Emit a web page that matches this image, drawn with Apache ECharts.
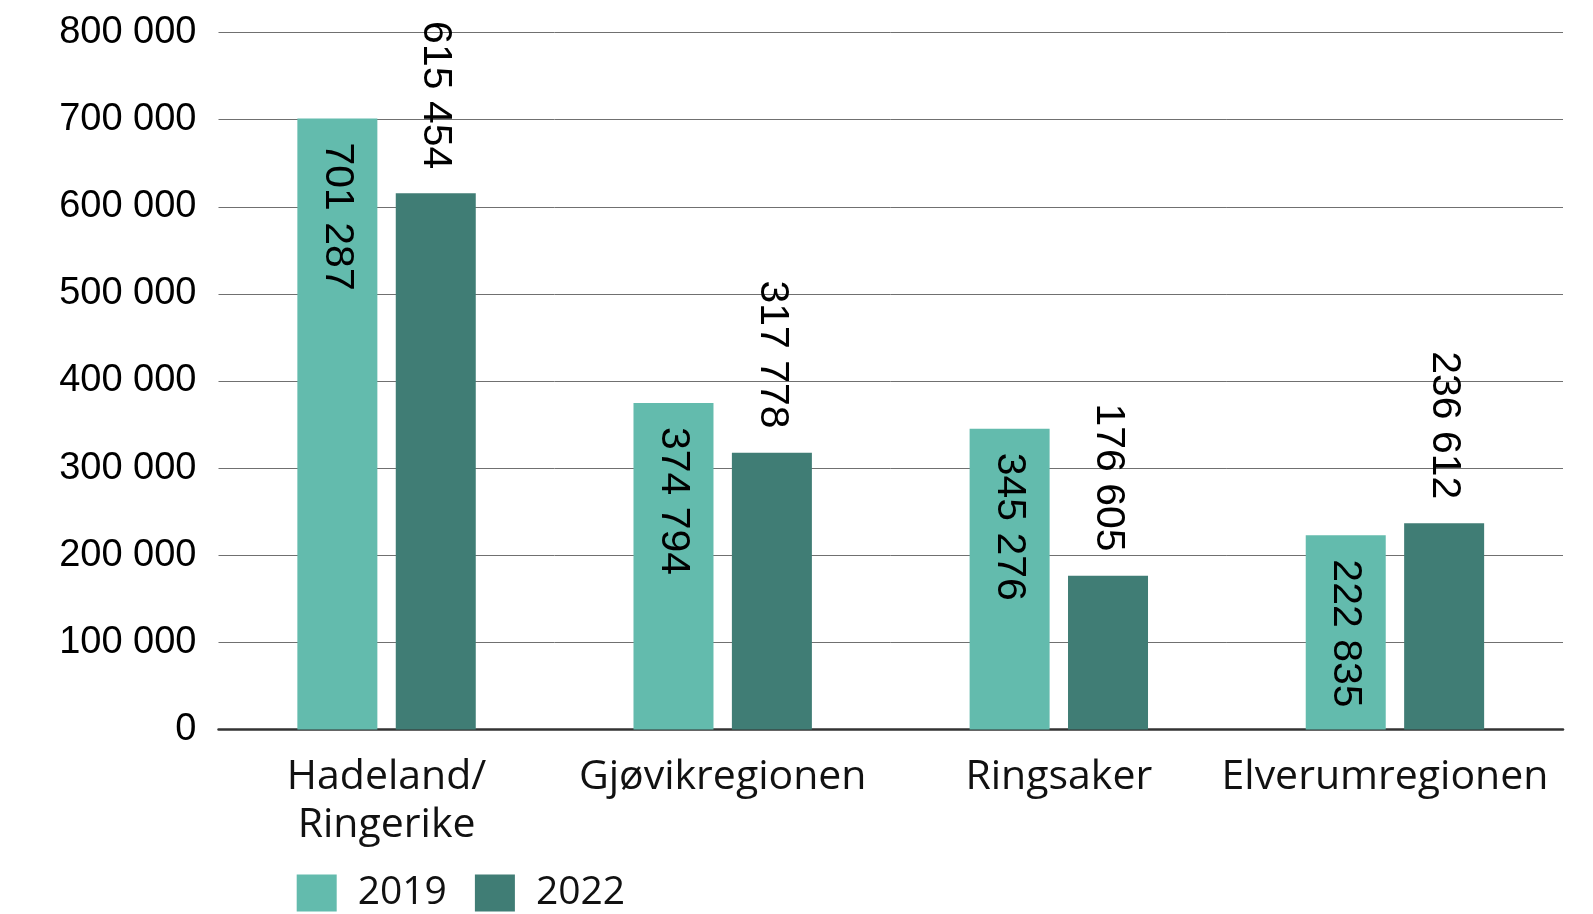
<!DOCTYPE html>
<html>
<head>
<meta charset="utf-8">
<style>
  html, body { margin: 0; padding: 0; background: #ffffff; }
  #chart { width: 1593px; height: 914px; }
</style>
<script src="https://cdn.jsdelivr.net/npm/echarts@6/dist/echarts.min.js"></script>
</head>
<body>
<div id="chart"></div>
<script>
// Regions and yearly totals
const regions = ['Hadeland/\nRingerike', 'Gjøvikregionen', 'Ringsaker', 'Elverumregionen'];
const values2019 = [701287, 374794, 345276, 222835];
const values2022 = [615454, 317778, 176605, 236612];
const seriesNames = ['2019', '2022'];

const colorLight = '#63BBAD';
const colorDark = '#407D75';

// Norwegian-style thousands separator (space)
function fmt(v) {
  return String(v).replace(/\B(?=(\d{3})+(?!\d))/g, ' ');
}

// The last category name is nudged left so it stays clear of the right edge
const categoryData = regions.map((name, i) =>
  i === regions.length - 1
    ? { value: name, textStyle: { padding: [0, 20, 0, 0] } }
    : name
);

const chart = echarts.init(document.getElementById('chart'), null, { renderer: 'canvas' });

chart.setOption({
  animation: false,
  backgroundColor: '#ffffff',
  grid: { left: 218.5, right: 30, top: 32.5, bottom: 184.5, containLabel: false },
  legend: {
    left: 291.7,
    top: 868.5,
    itemWidth: 40,
    itemHeight: 37,
    itemGap: 28,
    icon: 'rect',
    textStyle: {
      fontFamily: 'Open Sans',
      fontSize: 39,
      lineHeight: 37,
      color: '#111',
      padding: [0, 0, 0, 16]
    },
    data: seriesNames
  },
  xAxis: {
    type: 'category',
    data: categoryData,
    axisLine: { show: true, lineStyle: { color: '#333', width: 2.5 } },
    axisTick: { show: false },
    axisLabel: {
      margin: 24,
      fontFamily: 'Open Sans',
      fontSize: 41,
      lineHeight: 48,
      color: '#111',
      interval: 0
    }
  },
  yAxis: {
    type: 'value',
    min: 0,
    max: 800000,
    interval: 100000,
    axisLine: { show: false },
    axisTick: { show: false },
    splitLine: { lineStyle: { color: '#707070', width: 1 } },
    axisLabel: {
      margin: 22,
      fontFamily: 'Liberation Sans',
      fontSize: 38,
      color: '#000',
      formatter: fmt
    }
  },
  series: [
    {
      name: seriesNames[0],
      type: 'bar',
      data: values2019,
      barWidth: 80,
      barGap: '23%',
      itemStyle: { color: colorLight },
      label: {
        show: true,
        position: 'insideTop',
        distance: 24,
        rotate: -90,
        align: 'left',
        verticalAlign: 'middle',
        fontFamily: 'Liberation Sans',
        fontSize: 41,
        color: '#000',
        formatter: p => fmt(p.value)
      }
    },
    {
      name: seriesNames[1],
      type: 'bar',
      data: values2022,
      barWidth: 80,
      itemStyle: { color: colorDark },
      label: {
        show: true,
        position: 'top',
        distance: 24,
        rotate: -90,
        align: 'right',
        verticalAlign: 'middle',
        fontFamily: 'Liberation Sans',
        fontSize: 41,
        color: '#000',
        formatter: p => fmt(p.value)
      }
    }
  ]
});
</script>
</body>
</html>
